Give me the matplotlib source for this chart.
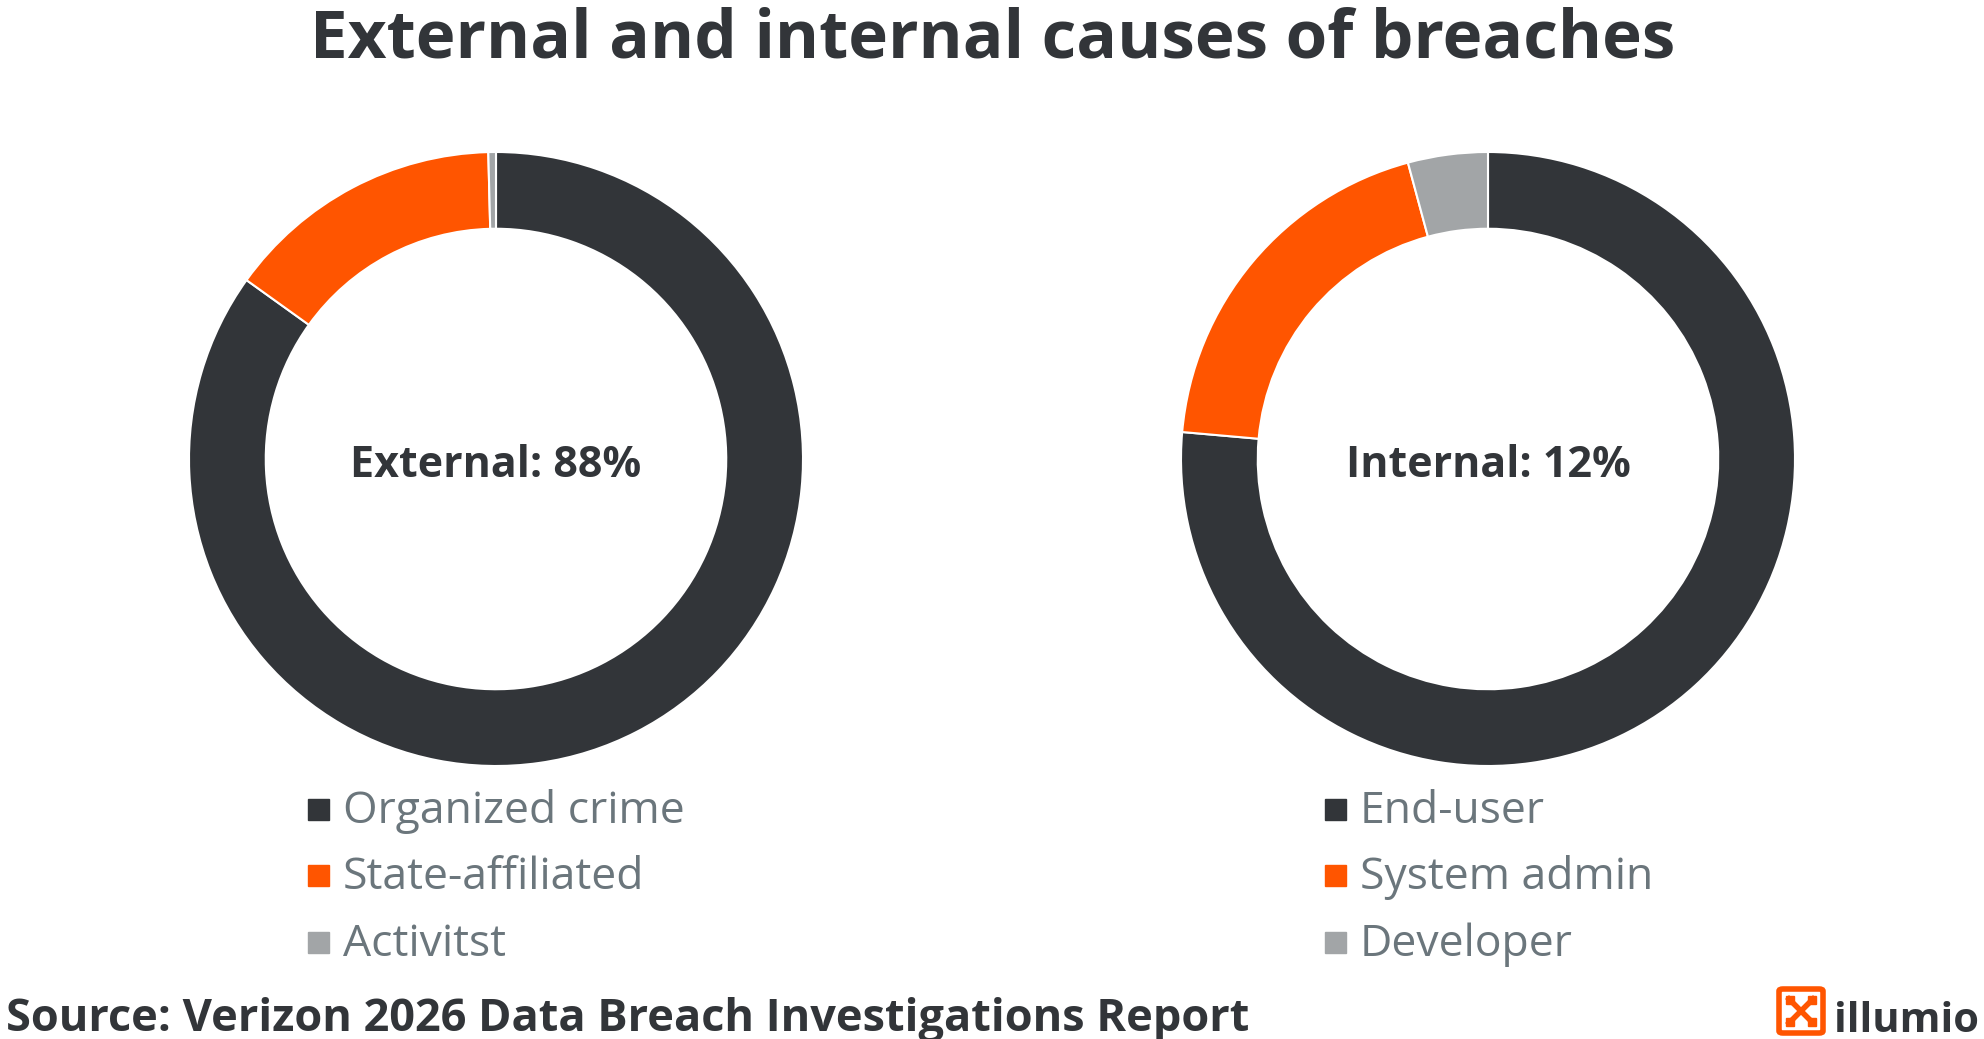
import matplotlib
matplotlib.use("Agg")
import matplotlib.pyplot as plt
from matplotlib.patches import Rectangle, FancyBboxPatch

plt.rcParams['font.family'] = ['Open Sans', 'DejaVu Sans']

# data
title = "External and internal causes of breaches"
source = "Source: Verizon 2026 Data Breach Investigations Report"

ext_labels = ["Organized crime", "State-affiliated", "Activitst"]
ext_values = [84.9, 14.7, 0.4]
ext_total = 88

int_labels = ["End-user", "System admin", "Developer"]
int_values = [76.4, 19.4, 4.2]
int_total = 12

colors = ["#323539", "#ff5500", "#a2a5a7"]
DARK = "#323539"
LEGEND_TXT = "#6b767c"

W, H = 1984, 1039
fig = plt.figure(figsize=(W / 100, H / 100), dpi=100)


def fx(x):
    return x / W


def fy(y):
    return 1 - y / H


def donut(cx, cy, r, values, center_text):
    ax = fig.add_axes([fx(cx - r), fy(cy + r), 2 * r / W, 2 * r / H])
    ax.pie(values, colors=colors, startangle=90, counterclock=False, radius=1,
           wedgeprops=dict(width=0.25, edgecolor="white", linewidth=1.5))
    ax.set_xlim(-1, 1)
    ax.set_ylim(-1, 1)
    ax.axis("off")
    ax.text(0, -0.02, center_text, ha="center", va="center", fontsize=31,
            fontweight="bold", color=DARK)
    return ax


def legend(x_sq, x_txt, y_rows, labels):
    for lab, col, yb in zip(labels, colors, y_rows):
        fig.patches.append(Rectangle((fx(x_sq), fy(yb - 3)), 21 / W, 21 / H,
                                     transform=fig.transFigure, color=col))
        fig.text(fx(x_txt), fy(yb), lab, fontsize=32, color=LEGEND_TXT,
                 ha="left", va="baseline")


donut(496, 459, 307, ext_values, f"External: {ext_total}%")
donut(1488, 459, 307, int_values, f"Internal: {int_total}%")

rows = [823, 889, 956]
legend(308, 343, rows, ext_labels)
legend(1325, 1360, rows, int_labels)

fig.text(fx(993), fy(57), title, ha="center", va="baseline", fontsize=48.5,
         fontweight="bold", color=DARK)
fig.text(fx(6), fy(1031), source, ha="left", va="baseline", fontsize=32.5,
         fontweight="bold", color=DARK)

# illumio logo
fig.patches.append(FancyBboxPatch((fx(1779), fy(1033)), 44 / W, 44 / H,
                                  boxstyle="round,pad=0,rounding_size=0.002",
                                  transform=fig.transFigure, fill=False,
                                  edgecolor="#ff5500", linewidth=4))
for (x0, y0), (x1, y1) in [((1789, 999), (1813, 1023)), ((1813, 999), (1789, 1023))]:
    fig.add_artist(plt.Line2D([fx(x0), fx(x1)], [fy(y0), fy(y1)],
                              transform=fig.transFigure, color="#ff5500", linewidth=4))
for px, py in [(1790, 1000), (1812, 1000), (1790, 1022), (1812, 1022)]:
    fig.patches.append(Rectangle((fx(px - 4), fy(py + 4)), 8 / W, 8 / H,
                                 transform=fig.transFigure, color="#ff5500"))
fig.text(fx(1834), fy(1032), "illumio", ha="left", va="baseline", fontsize=30,
         fontweight="bold", color=DARK)

fig.savefig("out.png", dpi=100, facecolor="white")
